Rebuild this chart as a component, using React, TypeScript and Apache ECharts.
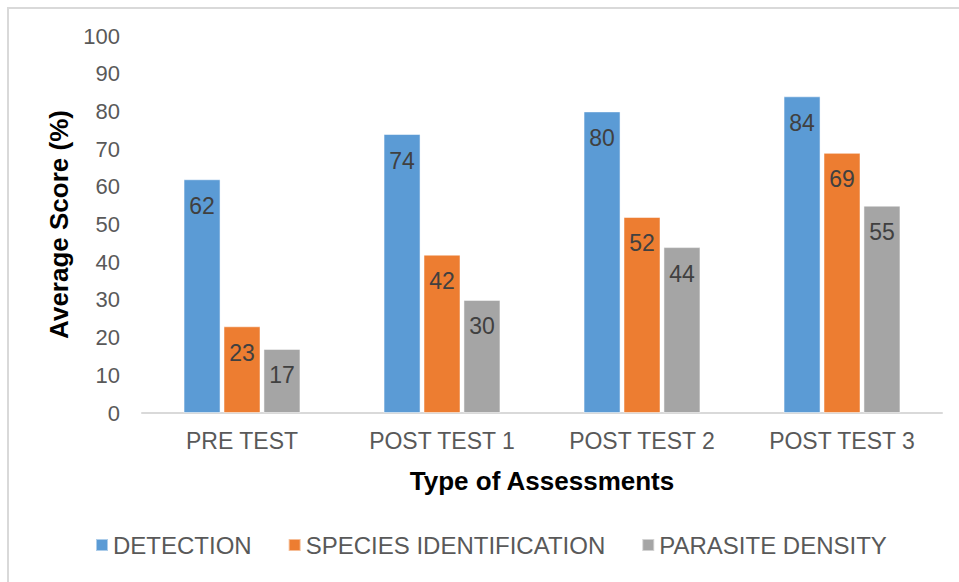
import React, { useEffect, useRef } from "react";
import * as echarts from "echarts";

const categories = ["PRE TEST", "POST TEST 1", "POST TEST 2", "POST TEST 3"];
const detection = [62, 74, 80, 84];
const speciesIdentification = [23, 42, 52, 69];
const parasiteDensity = [17, 30, 44, 55];
const seriesNames = ["DETECTION", "SPECIES IDENTIFICATION", "PARASITE DENSITY"];
const colors = ["#5B9BD5", "#ED7D31", "#A5A5A5"];

const FONT = "'Liberation Sans', Arial, sans-serif";

export default function App() {
  const ref = useRef<HTMLDivElement>(null);
  useEffect(() => {
    if (!ref.current) return;
    const chart = echarts.init(ref.current, undefined, { renderer: "svg" });
    const values = [detection, speciesIdentification, parasiteDensity];
    chart.setOption({
      animation: false,
      backgroundColor: "#ffffff",
      textStyle: { fontFamily: FONT },
      graphic: [
        {
          type: "rect",
          shape: { x: 8, y: 8, width: 1200, height: 1200 },
          style: { fill: "none", stroke: "#d9d9d9", lineWidth: 2 },
          silent: true,
        },
      ],
      grid: { left: 142, right: 17, top: 36, bottom: 169, containLabel: false },
      legend: {
        data: seriesNames,
        bottom: 20,
        left: 90,
        icon: "rect",
        itemWidth: 12,
        itemHeight: 12,
        itemGap: 36,
        textStyle: { fontFamily: FONT, fontSize: 24, color: "#595959" },
      },
      xAxis: {
        type: "category",
        data: categories,
        name: "Type of Assessments",
        nameLocation: "middle",
        nameGap: 55,
        nameTextStyle: { fontFamily: FONT, fontSize: 26, fontWeight: "bold", color: "#000000" },
        axisLine: { lineStyle: { color: "#d9d9d9", width: 2 } },
        axisTick: { show: false },
        axisLabel: { fontFamily: FONT, fontSize: 23, color: "#595959", margin: 16 },
      },
      yAxis: {
        type: "value",
        min: 0,
        max: 100,
        interval: 10,
        name: "Average Score (%)",
        nameLocation: "middle",
        nameGap: 70,
        nameTextStyle: { fontFamily: FONT, fontSize: 26, fontWeight: "bold", color: "#000000" },
        axisLine: { show: false },
        axisTick: { show: false },
        splitLine: { show: false },
        axisLabel: { fontFamily: FONT, fontSize: 22, color: "#595959", margin: 22 },
      },
      series: seriesNames.map((name, i) => ({
        name,
        type: "bar",
        data: values[i],
        barWidth: 37,
        barGap: "8%",
        itemStyle: { color: colors[i], borderColor: "rgba(255,255,255,0.5)", borderWidth: 1 },
        label: {
          show: true,
          position: "insideTop",
          distance: 15,
          fontFamily: FONT,
          fontSize: 23,
          color: "#404040",
        },
      })),
    });
    return () => chart.dispose();
  }, []);
  return (
    <div
      ref={ref}
      style={{ position: "fixed", left: 0, top: 0, width: 959, height: 582 }}
    />
  );
}
